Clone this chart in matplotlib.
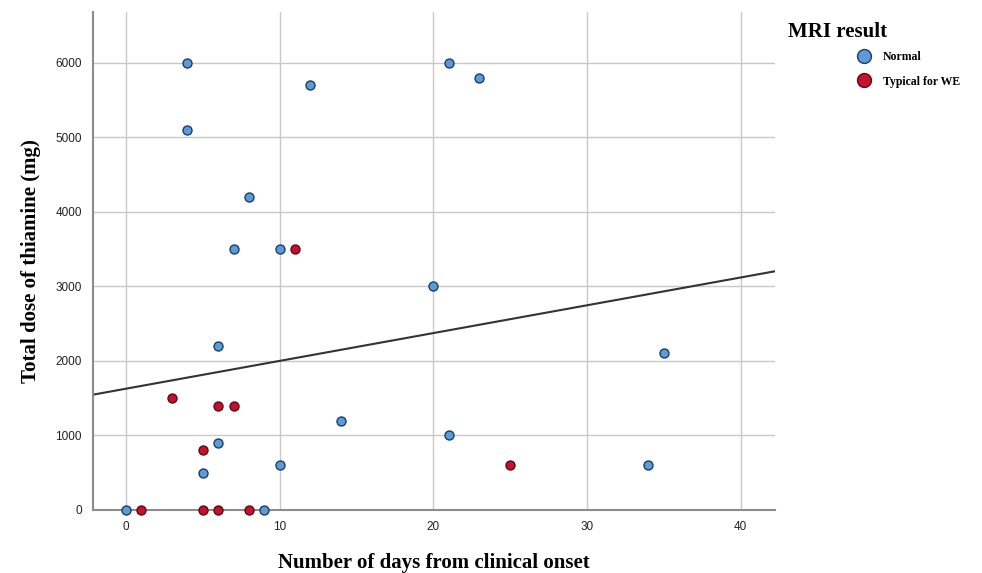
import numpy as np
import matplotlib.pyplot as plt
from matplotlib.lines import Line2D

# days from onset / total thiamine dose (mg)
normal_days = [4, 4, 12, 21, 23, 8, 7, 10, 20, 6, 35, 14, 21, 6, 5, 10, 34, 0, 9]
normal_dose = [6000, 5100, 5700, 6000, 5800, 4200, 3500, 3500, 3000, 2200, 2100, 1200, 1000, 900, 500, 600, 600, 0, 0]

we_days = [11, 3, 6, 7, 5, 25, 1, 5, 6, 8]
we_dose = [3500, 1500, 1400, 1400, 800, 600, 0, 0, 0, 0]

# fit line
fit_intercept = 1627
fit_slope = 37.3

blue = "#5b9bd8"
blue_edge = "#1d3c66"
red = "#c8102e"
red_edge = "#5a0a14"

fig = plt.figure(figsize=(9.82, 5.73), dpi=100)
ax = fig.add_axes([0.0947, 0.110, 0.694, 0.869])

ax.scatter(normal_days, normal_dose, s=42, color=blue, edgecolors=blue_edge, linewidths=1.0, zorder=3, clip_on=False)
ax.scatter(we_days, we_dose, s=42, color=red, edgecolors=red_edge, linewidths=1.0, zorder=3, clip_on=False)

xs = np.array([-2.15, 42.2])
ax.plot(xs, fit_intercept + fit_slope * xs, color="#333333", lw=1.5, zorder=2)

ax.set_xlim(-2.15, 42.2)
ax.set_ylim(0, 6680)
ax.set_xticks([0, 10, 20, 30, 40])
ax.set_yticks(range(0, 7000, 1000))
ax.grid(True, color="#c8c8c8", lw=1.0)
ax.set_axisbelow(True)
for s in ["top", "right"]:
    ax.spines[s].set_visible(False)
for s in ["left", "bottom"]:
    ax.spines[s].set_color("#8c8c8c")
    ax.spines[s].set_linewidth(1.5)
ax.tick_params(length=0, pad=8, labelsize=8.5, labelcolor="#222222")
for lab in ax.get_xticklabels() + ax.get_yticklabels():
    lab.set_family("Liberation Sans")

ax.set_xlabel("Number of days from clinical onset", family="Liberation Serif",
              fontweight="bold", fontsize=15, labelpad=14)
ax.set_ylabel("Total dose of thiamine (mg)", family="Liberation Serif",
              fontweight="bold", fontsize=15, labelpad=10)

fig.text(0.802, 0.944, "MRI result", family="Liberation Serif", fontweight="bold",
         fontsize=15, va="center")
handles = [
    Line2D([], [], ls="none", marker="o", ms=10, mfc=blue, mec=blue_edge, mew=1.0, label="Normal"),
    Line2D([], [], ls="none", marker="o", ms=10, mfc=red, mec=red_edge, mew=1.0, label="Typical for WE"),
]
fig.legend(handles=handles, loc="upper left", bbox_to_anchor=(0.862, 0.921), frameon=False,
           prop={"family": "Liberation Serif", "weight": "bold", "size": 8.5},
           handletextpad=0.6, labelspacing=1.05, borderpad=0)

fig.savefig("out.png", dpi=100)
